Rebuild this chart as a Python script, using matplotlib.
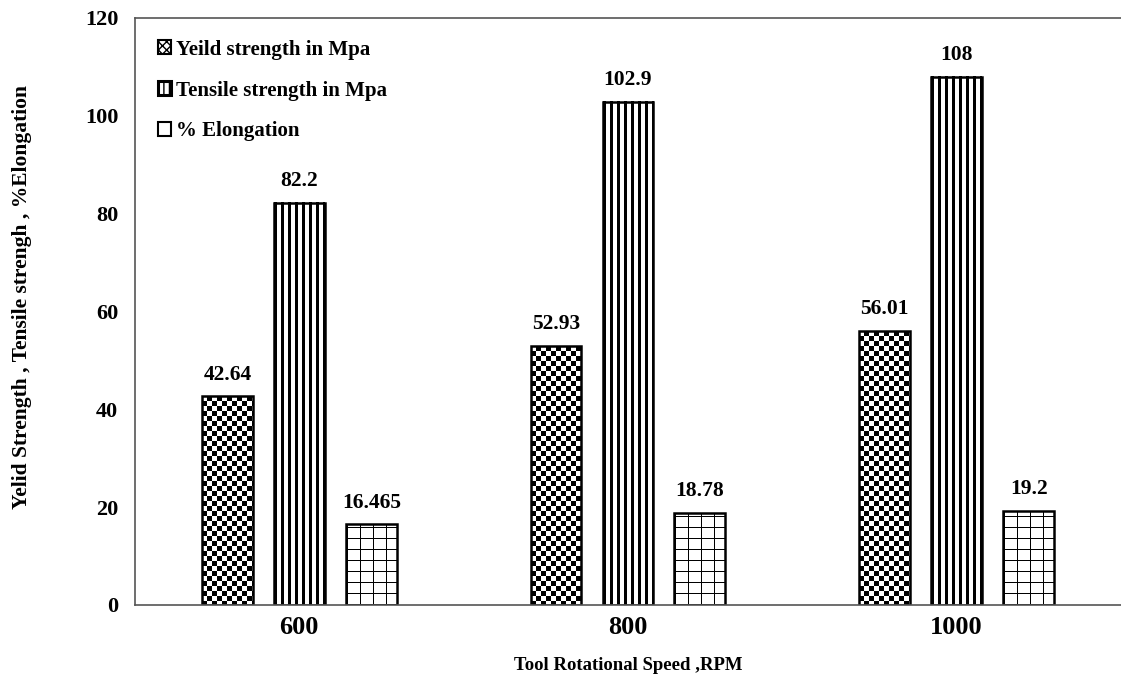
import numpy as np
import matplotlib
matplotlib.use("Agg")
import matplotlib.pyplot as plt
from matplotlib.patches import Patch

speeds = ["600", "800", "1000"]
yield_strength = [42.64, 52.93, 56.01]
tensile_strength = [82.2, 102.9, 108]
elongation = [16.465, 18.78, 19.2]
value_labels = [["42.64", "52.93", "56.01"],
                 ["82.2", "102.9", "108"],
                 ["16.465", "18.78", "19.2"]]
series_names = ["Yeild strength in Mpa", "Tensile strength in Mpa", "% Elongation"]

plt.rcParams["font.family"] = ["Liberation Serif", "DejaVu Serif"]
plt.rcParams["font.weight"] = "bold"

fig = plt.figure(figsize=(11.21, 6.79), dpi=100)
ax = fig.add_axes([0.1204, 0.109, 0.8796, 0.8645])
ax.set_xlim(-0.5, 2.5)
ax.set_ylim(0, 120)


# pixel fill patterns for the three series
def checker(h, w):
    i, j = np.indices((h, w))
    return ((i // 5 + j // 5) % 2).astype(float)


def stripes(h, w):
    i, j = np.indices((h, w))
    return ((j % 7) < 3).astype(float)


def grid(h, w):
    i, j = np.indices((h, w))
    return (((j - 1) % 13 == 0) | ((h - 1 - i) % 11 == 0)).astype(float)


patterns = [checker, stripes, grid]
x = np.arange(len(speeds))
width = 0.155
offset = 0.219

fig.canvas.draw()
for k, (vals, pat) in enumerate(zip([yield_strength, tensile_strength, elongation], patterns)):
    xs = x + (k - 1) * offset
    bars = ax.bar(xs, vals, width, facecolor="none", edgecolor="black",
                  linewidth=1.8, zorder=2)
    for b, v, lab in zip(bars, vals, value_labels[k]):
        x0, x1 = b.get_x(), b.get_x() + b.get_width()
        (px0, py0), (px1, py1) = ax.transData.transform([(x0, 0), (x1, v)])
        w = max(int(round(px1 - px0)), 1)
        h = max(int(round(py1 - py0)), 1)
        ax.imshow(pat(h, w), cmap="gray_r", vmin=0, vmax=1, extent=(x0, x1, 0, v),
                  aspect="auto", interpolation="nearest", zorder=1.5)
        ax.text(b.get_x() + b.get_width() / 2, v + 2.4, lab, ha="center",
                va="bottom", fontsize=15.5, fontweight="bold")

ax.set_xlim(-0.5, 2.5)
ax.set_ylim(0, 120)
ax.set_xticks(x)
ax.set_xticklabels(speeds, fontsize=19, fontweight="bold")
ax.set_yticks(np.arange(0, 121, 20))
ax.set_yticklabels([str(t) for t in range(0, 121, 20)], fontsize=16, fontweight="bold")
ax.tick_params(axis="both", length=0)
ax.tick_params(axis="y", pad=12)
ax.tick_params(axis="x", pad=8)

for s in ["left", "top", "bottom"]:
    ax.spines[s].set_color("#555555")
    ax.spines[s].set_linewidth(1.2)
ax.spines["right"].set_visible(False)

ax.set_xlabel("Tool Rotational Speed ,RPM", fontsize=13.5, fontweight="bold", labelpad=13)
ax.set_ylabel("Yelid Strength , Tensile strengh , %Elongation", fontsize=15.5,
              fontweight="bold")
ax.yaxis.set_label_coords(-0.104, 0.525)

handles = [Patch(facecolor="white", edgecolor="black", hatch="xxxx", linewidth=1.5),
           Patch(facecolor="white", edgecolor="black", hatch="|||", linewidth=2.2),
           Patch(facecolor="white", edgecolor="black", linewidth=1.5)]
ax.legend(handles, series_names, loc="upper left", bbox_to_anchor=(0.004, 0.995),
          frameon=False, prop={"weight": "bold", "size": 15},
          handlelength=0.65, handleheight=0.65, handletextpad=0.25, labelspacing=1.0)

fig.savefig("out.png", dpi=100)
